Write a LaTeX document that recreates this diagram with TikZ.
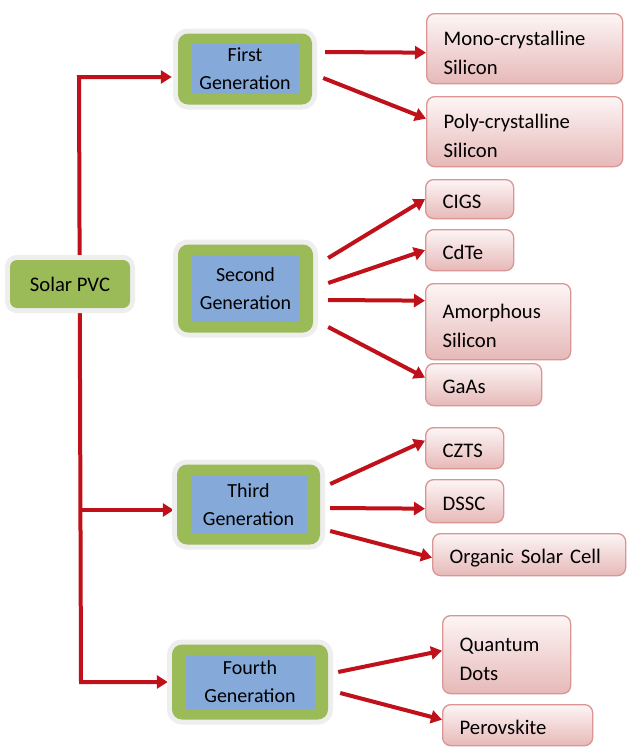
\documentclass[tikz,border=0pt]{standalone}
\usepackage{fontspec}
\setmainfont{Carlito}
\usetikzlibrary{arrows.meta,calc,backgrounds}
\definecolor{gengreen}{HTML}{9BBB59}
\definecolor{genblue}{HTML}{85A9D9}
\definecolor{glowgray}{HTML}{EEEEEE}
\definecolor{arrred}{HTML}{C0111A}
\definecolor{pinkline}{HTML}{D99694}
\definecolor{pinktop}{HTML}{FDF5F5}
\definecolor{pinkbot}{HTML}{E6B9B8}
\begin{document}
\begin{tikzpicture}[x=1pt,y=-1pt,
  font=\fontsize{20.7}{29}\selectfont,
  glowbox/.style={rounded corners=10pt, fill=gengreen,
    preaction={draw=glowgray, line width=10pt}, align=center, inner sep=0pt},
  gen/.style={glowbox, font=\fontsize{20}{28}\selectfont,
    path picture={\fill[genblue, sharp corners]
      ($(path picture bounding box.south west)+(14pt,10.5pt)$) rectangle
      ($(path picture bounding box.north east)+(-13pt,-10.5pt)$);}},
  pinkbox/.style={rounded corners=8pt, draw=pinkline, line width=1.3pt,
    top color=pinktop, bottom color=pinkbot, align=left,
    inner xsep=17pt, inner ysep=0pt, anchor=north west, text height=22pt},
  oneline/.style={pinkbox, text depth=4pt},
  arr/.style={draw=arrred, line width=4pt, line join=miter,
    -{Triangle[length=11pt,width=13pt]}}
]
\useasboundingbox (0,0) rectangle (627,747);

% root
\node[glowbox, rounded corners=7pt, minimum width=120pt, minimum height=48pt] (spv) at (70,284) {Solar PVC};

% generations
\node[gen, minimum width=134pt, minimum height=71pt] (g1) at (245,69) {First\\Generation};
\node[gen, minimum width=135pt, minimum height=88pt] (g2) at (245.5,288.5) {Second\\Generation};
\node[gen, minimum width=143pt, minimum height=80pt] (g3) at (248.5,504.5) {Third\\Generation};
\node[gen, minimum width=156pt, minimum height=75pt] (g4) at (250,682) {Fourth\\Generation};

% technologies
\node[pinkbox, text width=162pt, minimum height=70pt] (mono) at (426,13) {Mono-crystalline\\Silicon};
\node[pinkbox, text width=162pt, minimum height=70pt] (poly) at (426,96) {Poly-crystalline\\Silicon};
\node[oneline, text width=54pt, minimum height=39pt] (cigs) at (425,179) {CIGS};
\node[oneline, text width=54pt, minimum height=41pt] (cdte) at (425,229) {CdTe};
\node[pinkbox, text width=111pt, minimum height=76pt] (amor) at (425,283) {Amorphous\\Silicon};
\node[oneline, text width=82pt, minimum height=42pt] (gaas) at (425,363) {GaAs};
\node[oneline, text width=44pt, minimum height=41pt] (czts) at (425,427) {CZTS};
\node[oneline, text width=44pt, minimum height=43pt] (dssc) at (425,479) {DSSC};
\node[oneline, text width=159pt, minimum height=42pt] (org) at (432,533) {Organic Solar Cell};
\node[pinkbox, text width=94pt, minimum height=78pt] (qd) at (442,615) {Quantum\\Dots};
\node[oneline, text width=116pt, minimum height=41pt] (perov) at (442,704) {Perovskite};

\coordinate (t1) at (79,77);
\coordinate (t3) at (80,510);
\coordinate (t4) at (81,682);

\begin{scope}[on background layer]
\fill[white] (0,0) rectangle (627,747);
\draw[arr, {Triangle[length=11pt,width=13pt]}-{Triangle[length=11pt,width=13pt]}]
  ($(t1 -| g1.west)+(-6,0)$) -- (t1) -- (t4) -- ($(t4 -| g4.west)+(-4,0)$);
\draw[arr] (t3) -- ($(t3 -| g3.west)+(-3,0)$);

\draw[arr] ($(g1.east)+(13,-17)$) -- ($(mono.west)+(0,4)$);
\draw[arr] ($(g1.east)+(11,9)$) -- ($(poly.west)+(0,-13)$);

\draw[arr] ($(g2.east)+(15,-30.5)$) -- (cigs.west);
\draw[arr] ($(g2.east)+(15,-5.5)$) -- (cdte.west);
\draw[arr] ($(g2.east)+(15,11.5)$) -- ($(amor.west)+(0,-21)$);
\draw[arr] ($(g2.east)+(15,38.5)$) -- ($(gaas.west)+(0,-7)$);

\draw[arr] ($(g3.east)+(10,-20.5)$) -- ($(czts.west)+(0,-7.5)$);
\draw[arr] ($(g3.east)+(10,3.5)$) -- ($(dssc.west)+(0,7.5)$);
\draw[arr] ($(g3.east)+(10,26.5)$) -- ($(org.west)+(0,3)$);

\draw[arr] ($(g4.east)+(10,-10)$) -- ($(qd.west)+(0,-4)$);
\draw[arr] ($(g4.east)+(12,11)$) -- ($(perov.west)+(0,-5.5)$);
\end{scope}
\end{tikzpicture}
\end{document}
